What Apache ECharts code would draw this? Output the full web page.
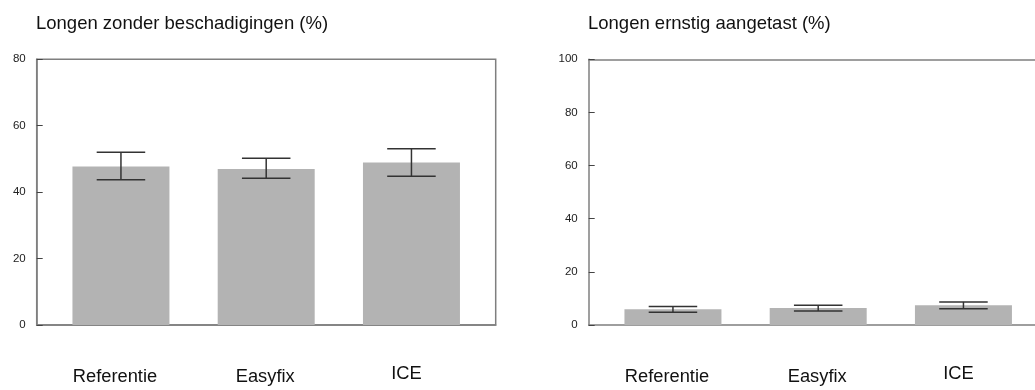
<!DOCTYPE html>
<html>
<head>
<meta charset="utf-8">
<style>
  html, body { margin: 0; padding: 0; background: #fff; }
  #chart { width: 1035px; height: 390px; }
</style>
<script src="https://cdn.jsdelivr.net/npm/echarts@6/dist/echarts.min.js"></script>
</head>
<body>
<div id="chart"></div>
<script>
const categories = ['Referentie', 'Easyfix', 'ICE'];
const positions = [1, 2, 3];

const intactTitle = 'Longen zonder beschadigingen (%)';
const intactMean = [47.7, 47.0, 48.9];
const intactLow = [43.7, 44.2, 44.8];
const intactHigh = [52.0, 50.2, 53.1];

const severeTitle = 'Longen ernstig aangetast (%)';
const severeMean = [5.9, 6.4, 7.4];
const severeLow = [4.8, 5.3, 6.1];
const severeHigh = [7.0, 7.4, 8.7];

const font = 'Liberation Sans, Arial, sans-serif';
const boxColor = '#7f7f7f';

const chart = echarts.init(document.getElementById('chart'));

const makeX = (gridIndex, max) => ({
  type: 'value',
  gridIndex,
  min: 0.42,
  max,
  splitLine: { show: false },
  axisLine: { show: true, lineStyle: { color: boxColor, width: 1.5 } },
  axisTick: { show: false },
  axisLabel: {
    customValues: positions,
    margin: 40,
    color: '#111',
    fontFamily: font,
    fontSize: 18,
    formatter: v => {
      const i = positions.indexOf(v);
      return i < 0 ? '' : '{c' + i + '|' + categories[i] + '}';
    },
    rich: {
      c0: { fontSize: 18.3, fontFamily: font, color: '#111', padding: [3, 12, 0, 0] },
      c1: { fontSize: 18.3, fontFamily: font, color: '#111', padding: [3, 2, 0, 0] },
      c2: { fontSize: 18.3, fontFamily: font, color: '#111', padding: [0, 10, 0, 0] }
    }
  }
});

// top edge of the right panel, which runs off the page
const topEdge = (gridIndex, max) => ({
  type: 'value',
  gridIndex,
  position: 'top',
  min: 0.42,
  max,
  splitLine: { show: false },
  axisLine: { show: true, lineStyle: { color: boxColor, width: 1.5 } },
  axisTick: { show: false },
  axisLabel: { show: false }
});

const makeY = (gridIndex, max) => ({
  type: 'value',
  gridIndex,
  min: 0,
  max,
  interval: 20,
  splitLine: { show: false },
  axisLine: { show: true, lineStyle: { color: boxColor, width: 1.5 } },
  axisTick: { show: true, inside: true, length: 6, lineStyle: { color: '#444' } },
  axisLabel: { color: '#222', fontFamily: font, fontSize: 11.5, margin: 11 }
});

const barSeries = (idx, values) => ({
  type: 'bar',
  xAxisIndex: idx,
  yAxisIndex: idx,
  barWidth: 97,
  itemStyle: { color: '#b3b3b3' },
  data: positions.map((p, i) => [p, values[i]]),
  silent: true
});

const errorSeries = (idx, low, high) => ({
  type: 'custom',
  xAxisIndex: idx,
  yAxisIndex: idx,
  silent: true,
  z: 5,
  data: positions.map((p, i) => [p, low[i], high[i]]),
  renderItem: (params, api) => {
    const lo = api.coord([api.value(0), api.value(1)]);
    const hi = api.coord([api.value(0), api.value(2)]);
    const half = api.size([0.167, 0])[0];
    const style = { stroke: '#333', lineWidth: 1.5 };
    return {
      type: 'group',
      children: [
        { type: 'line', shape: { x1: lo[0], y1: lo[1], x2: hi[0], y2: hi[1] }, style },
        { type: 'line', shape: { x1: hi[0] - half, y1: hi[1], x2: hi[0] + half, y2: hi[1] }, style },
        { type: 'line', shape: { x1: lo[0] - half, y1: lo[1], x2: lo[0] + half, y2: lo[1] }, style }
      ]
    };
  }
});

const titleStyle = { fontFamily: font, fontSize: 18.5, fontWeight: 'normal', color: '#111' };

chart.setOption({
  animation: false,
  title: [
    { text: intactTitle, left: 31, top: 9, textStyle: titleStyle },
    { text: severeTitle, left: 583, top: 9, textStyle: titleStyle }
  ],
  grid: [
    { left: 36.7, top: 59.3, width: 459, height: 265.7, show: true, borderColor: boxColor, borderWidth: 1.5 },
    { left: 588.7, top: 59.3, right: 0, height: 265.7 }
  ],
  xAxis: [makeX(0, 3.58), makeX(1, 3.4926), topEdge(1, 3.4926)],
  yAxis: [makeY(0, 80), makeY(1, 100)],
  series: [
    barSeries(0, intactMean),
    errorSeries(0, intactLow, intactHigh),
    barSeries(1, severeMean),
    errorSeries(1, severeLow, severeHigh)
  ]
});
</script>
</body>
</html>
